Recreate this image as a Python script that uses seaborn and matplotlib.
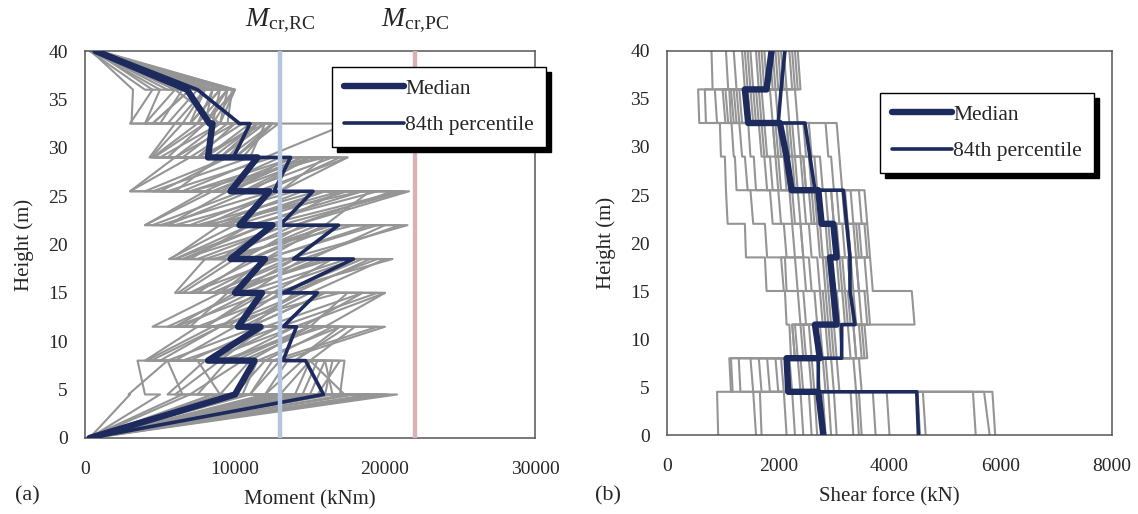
import numpy as np
import pandas as pd
import matplotlib
matplotlib.use("Agg")
import matplotlib.pyplot as plt
import seaborn as sns

# floor levels (m) - each story is drawn from floors[i] to floors[i+1]
floors = [0, 4.5, 8, 11.5, 15, 18.5, 22, 25.5, 29, 32.5, 36, 40]

# cracking moments (kNm)
mcr_rc = 13000
mcr_pc = 22000

# moment per story: (bottom, top) in kNm
moment_median = [(300, 10000), (10000, 11300), (8200, 11700), (10200, 11800), (10000, 12000),
                 (9700, 12500), (10300, 12300), (9700, 11500), (8200, 8500), (8300, 6800), (6800, 700)]
moment_p84 = [(300, 15900), (15900, 14700), (13200, 14100), (13200, 15500), (13200, 17900),
              (13900, 16900), (13000, 15200), (12600, 13700), (9900, 11000), (10300, 7500), (7500, 900)]
moment_records = [
    [(300, 3000), (2900, 5500), (4100, 8500), (4500, 9000), (6200, 9500), (5700, 9000), (4000, 8000), (3000, 7000), (4400, 6500), (3100, 3200), (3200, 400)],
    [(200, 6500), (5500, 8000), (6000, 10000), (6500, 11000), (7000, 11500), (6500, 12000), (5500, 11000), (5000, 9500), (5500, 8000), (4500, 7000), (6500, 700)],
    [(400, 8500), (7500, 9500), (7000, 12000), (8000, 11500), (8000, 12500), (7500, 13500), (7000, 13000), (6500, 12000), (6500, 9500), (6000, 8000), (7000, 800)],
    [(300, 10500), (9000, 11000), (8500, 13000), (9000, 12500), (8500, 13500), (9000, 14000), (8500, 14500), (8000, 13000), (7500, 10000), (7000, 9000), (8000, 900)],
    [(500, 12000), (11000, 12500), (9500, 14000), (10500, 15000), (9500, 16000), (10000, 15500), (9500, 16000), (9000, 14500), (8500, 11500), (8000, 9500), (8500, 1000)],
    [(200, 13500), (12000, 13500), (10500, 15500), (11000, 16000), (10500, 17500), (11000, 17000), (10000, 17500), (9500, 15500), (9000, 12000), (8500, 10000), (9500, 700)],
    [(300, 14500), (13000, 15000), (11500, 17000), (12000, 18500), (11500, 18000), (12000, 19000), (11000, 19500), (10500, 16500), (9500, 12500), (9000, 10000), (10000, 800)],
    [(400, 16000), (14500, 15500), (12500, 19500), (13000, 19500), (12500, 20500), (13500, 21500), (12000, 21000), (11500, 17500), (10000, 12900), (9500, 9800), (9800, 900)],
    [(300, 17500), (15500, 17000), (13000, 20000), (14000, 20000), (13500, 19500), (14500, 21000), (13000, 21300), (12000, 17000), (10500, 12500), (9000, 9500), (9500, 600)],
    [(200, 19500), (16000, 16500), (14000, 17500), (14500, 18500), (14000, 19000), (15000, 20000), (14000, 20500), (13000, 16000), (11000, 12000), (8500, 9000), (9000, 700)],
    [(500, 20800), (17000, 17300), (15000, 18000), (15000, 17500), (13000, 18500), (12000, 19500), (11000, 18500), (10500, 15000), (9500, 11500), (8000, 8500), (8500, 800)],
    [(300, 20200), (15000, 16000), (12000, 16500), (11000, 16000), (10000, 15500), (9500, 16500), (9000, 17000), (8500, 15000), (8000, 11000), (7500, 8500), (8000, 900)],
    [(200, 18000), (14000, 15000), (10000, 15000), (9000, 14500), (8500, 14000), (8000, 15000), (7500, 15500), (7000, 14000), (7000, 10500), (6500, 8000), (7500, 600)],
    [(400, 15000), (10000, 12000), (8000, 14000), (7500, 13500), (7000, 13000), (6500, 13500), (6000, 14000), (5500, 12500), (6000, 10000), (5500, 7500), (6500, 700)],
    [(300, 11000), (7000, 10500), (6500, 13000), (6000, 12000), (7500, 11000), (6000, 12000), (5000, 12500), (4500, 11000), (5000, 9000), (4500, 7000), (5500, 500)],
    [(200, 9000), (6000, 9000), (5500, 11500), (5500, 10500), (6500, 10000), (6000, 11000), (4500, 10500), (4000, 9500), (4600, 8000), (4000, 6000), (4500, 600)],
    [(300, 16500), (12000, 14500), (9000, 16000), (8500, 17000), (9000, 16500), (8500, 18000), (8000, 18500), (7000, 16000), (7500, 12000), (7000, 9000), (7500, 800)],
    [(500, 14000), (11000, 13000), (9500, 15000), (10000, 14500), (9000, 15000), (9500, 16500), (9000, 16000), (8500, 14000), (8000, 11500), (7500, 9500), (8200, 700)],
    [(300, 7000), (6500, 5500), (5000, 9000), (11000, 14000), (6000, 8000), (12000, 16000), (5500, 9500), (13000, 17500), (4500, 7500), (9000, 6000), (6000, 500)],
    [(200, 13000), (9000, 7500), (14000, 17000), (6000, 10000), (15000, 20000), (7000, 11000), (16000, 19000), (6000, 9000), (10000, 12500), (4000, 5000), (5000, 400)],
    [(400, 19000), (17300, 15000), (4400, 9000), (16000, 20000), (9000, 12000), (5600, 10000), (14000, 21600), (3000, 6000), (12000, 17500), (7000, 8000), (8000, 800)],
    [(300, 5000), (4000, 3500), (9000, 12000), (7000, 9500), (11000, 14500), (9000, 12500), (4000, 8500), (11000, 15000), (4300, 6000), (3000, 4500), (4000, 300)],
    [(500, 20000), (16500, 16000), (11000, 15000), (9500, 13000), (12500, 16500), (10500, 14500), (12500, 17000), (10000, 13500), (9000, 11500), (8000, 10000), (10000, 1000)],
    [(300, 12500), (10500, 11500), (4000, 7500), (8000, 12000), (10000, 14000), (11000, 16000), (8000, 13000), (9500, 14500), (6000, 9000), (5000, 6500), (6000, 600)],
]

# shear per story: (bottom, top) in kN
shear_median = [(2810, 2720), (2180, 2150), (2750, 2660), (3050, 2990), (2990, 2930), (3050, 2990),
                (2780, 2720), (2240, 2150), (2150, 2030), (1460, 1400), (1790, 1880)]
shear_p84 = [(4520, 4490), (2720, 2720), (3140, 3140), (3380, 3290), (3290, 3290), (3290, 3230),
             (3230, 3170), (2660, 2570), (2570, 2480), (2000, 2050), (2050, 2120)]
shear_records = [
    [(920, 900), (1180, 1150), (2230, 2200), (2150, 2120), (1790, 1760), (1420, 1400), (1090, 1060), (1060, 1040), (970, 950), (580, 560), (820, 800)],
    [(1700, 1670), (1320, 1290), (2450, 2400), (2400, 2350), (2150, 2120), (1800, 1760), (1550, 1500), (1250, 1220), (1200, 1160), (700, 680), (1100, 1060)],
    [(2300, 2250), (1700, 1650), (2350, 2300), (2700, 2650), (2500, 2450), (2300, 2250), (2050, 2000), (1600, 1560), (1500, 1460), (1050, 1000), (1400, 1350)],
    [(2450, 2400), (1850, 1800), (2600, 2550), (2900, 2850), (2750, 2700), (2600, 2550), (2400, 2350), (1900, 1850), (1750, 1700), (1150, 1120), (1550, 1500)],
    [(2600, 2550), (2000, 1950), (2700, 2650), (3100, 3050), (3000, 2950), (2900, 2850), (2600, 2550), (2050, 2000), (1950, 1900), (1300, 1250), (1700, 1650)],
    [(2700, 2650), (2100, 2050), (2500, 2450), (2850, 2800), (2850, 2800), (3050, 3000), (2800, 2750), (2300, 2250), (2100, 2050), (1450, 1400), (1800, 1750)],
    [(2850, 2800), (2200, 2150), (2750, 2700), (3050, 3000), (3100, 3050), (3200, 3150), (2900, 2850), (2350, 2300), (2200, 2150), (1550, 1500), (1900, 1850)],
    [(2950, 2900), (2250, 2200), (2900, 2850), (3200, 3150), (3300, 3250), (3300, 3250), (3000, 2950), (2450, 2400), (2250, 2200), (1600, 1550), (1950, 1900)],
    [(3050, 3000), (2400, 2350), (3050, 3000), (3350, 3300), (3450, 3400), (3450, 3400), (3200, 3150), (2600, 2550), (2400, 2350), (1750, 1700), (2050, 2000)],
    [(3500, 3450), (2600, 2550), (3300, 3250), (3500, 3450), (3600, 3550), (3650, 3600), (3350, 3300), (2800, 2750), (2600, 2550), (1900, 1850), (2150, 2100)],
    [(3750, 3700), (2750, 2700), (3550, 3500), (4450, 4400), (3700, 3650), (3400, 3350), (3600, 3550), (3150, 3100), (3100, 3050), (2350, 2300), (2400, 2350)],
    [(4650, 4600), (3000, 2950), (3400, 3350), (3250, 3200), (3200, 3150), (3100, 3050), (3000, 2950), (2500, 2450), (2300, 2250), (1650, 1600), (2250, 2200)],
    [(5550, 5500), (3400, 3350), (3600, 3550), (3400, 3350), (3350, 3300), (3500, 3450), (3250, 3200), (2700, 2650), (2500, 2450), (2000, 1950), (2300, 2250)],
    [(5800, 5700), (3500, 3450), (3150, 3100), (3100, 3050), (2900, 2850), (2750, 2700), (2650, 2600), (2150, 2100), (2000, 1950), (1350, 1300), (1750, 1700)],
    [(5900, 5850), (2850, 2800), (2950, 2900), (2950, 2900), (2600, 2550), (2450, 2400), (2300, 2250), (1800, 1750), (1700, 1650), (1200, 1150), (1500, 1450)],
    [(2150, 2100), (1550, 1500), (2300, 2250), (2500, 2450), (2350, 2300), (2150, 2100), (1900, 1850), (1450, 1400), (1350, 1300), (900, 860), (1250, 1200)],
    [(3350, 3300), (2450, 2400), (2800, 2750), (3000, 2950), (3150, 3100), (2950, 2900), (2700, 2650), (2200, 2150), (2050, 2000), (1500, 1450), (2000, 1950)],
    [(4550, 4500), (2650, 2600), (3000, 2950), (3300, 3250), (2950, 2900), (3300, 3250), (3100, 3050), (2500, 2450), (2200, 2150), (1700, 1650), (2100, 2050)],
    [(3450, 3400), (2900, 2850), (2300, 2250), (2800, 2750), (2100, 2050), (2450, 2400), (2250, 2200), (2000, 1950), (1800, 1750), (1100, 1050), (1450, 1400)],
    [(1600, 1550), (1150, 1120), (3400, 3350), (3600, 3550), (3450, 3400), (3600, 3550), (3500, 3450), (3000, 2950), (2900, 2850), (2200, 2150), (2350, 2300)],
    [(4000, 3950), (3100, 3050), (3500, 3450), (3650, 3600), (3300, 3250), (2800, 2750), (2500, 2450), (2200, 2150), (1950, 1900), (1250, 1200), (1650, 1600)],
]

navy = '#1c2a5e'
gray = '#959595'


def profile(pairs, rec=0):
    rows = []
    for i, (b, t) in enumerate(pairs):
        rows.append((rec, b, floors[i]))
        rows.append((rec, t, floors[i + 1]))
    return pd.DataFrame(rows, columns=['record', 'value', 'height'])


sns.set_style('white')
plt.rcParams['font.family'] = ['Liberation Serif', 'DejaVu Serif']
plt.rcParams['mathtext.fontset'] = 'custom'
plt.rcParams['mathtext.rm'] = 'Liberation Serif'
plt.rcParams['mathtext.it'] = 'Liberation Serif:italic'

fig = plt.figure(figsize=(11.38, 5.14), dpi=100)
ax1 = fig.add_axes([85 / 1138, 76 / 514, 450 / 1138, 387 / 514])
ax2 = fig.add_axes([667 / 1138, 79 / 514, 445 / 1138, 384 / 514])

panels = [
    (ax1, moment_records, moment_median, moment_p84, 'Moment (kNm)', (0, 30000), 10000, (332, 67)),
    (ax2, shear_records, shear_median, shear_p84, 'Shear force (kN)', (0, 8000), 2000, (880, 93)),
]

for ax, records, med, p84, xlab, xlim, xstep, leg_pos in panels:
    recs = pd.concat([profile(r, k) for k, r in enumerate(records)], ignore_index=True)
    sns.lineplot(data=recs, x='value', y='height', units='record', estimator=None, sort=False,
                 color=gray, lw=1.5, ax=ax, legend=False, zorder=2)
    d = profile(med)
    sns.lineplot(data=d, x='value', y='height', estimator=None, sort=False, color=navy, lw=4.6,
                 solid_capstyle='round', solid_joinstyle='round', ax=ax, zorder=4, label='Median')
    d = profile(p84)
    sns.lineplot(data=d, x='value', y='height', estimator=None, sort=False, color=navy, lw=2.6,
                 solid_capstyle='round', solid_joinstyle='round', ax=ax, zorder=4, label='84th percentile')

    ax.set_xlim(*xlim)
    ax.set_ylim(0, 40)
    ax.set_xticks(np.arange(xlim[0], xlim[1] + 1, xstep))
    ax.set_yticks(np.arange(0, 41, 5))
    ax.set_xlabel(xlab, fontsize=15, labelpad=9)
    ax.set_ylabel('Height (m)', fontsize=15, labelpad=10)
    ax.tick_params(axis='both', direction='inout', length=9, width=1.1, color='#4a4a4a', labelsize=14)
    ax.tick_params(axis='x', pad=12)
    ax.tick_params(axis='y', pad=8)
    for s in ax.spines.values():
        s.set_color('#555555')
        s.set_linewidth(1.1)

    handles, labels = ax.get_legend_handles_labels()
    leg = ax.legend(handles, labels, loc='upper left',
                    bbox_to_anchor=(leg_pos[0] / 1138, 1 - leg_pos[1] / 514),
                    bbox_transform=fig.transFigure, borderaxespad=0, fontsize=15.5,
                    handlelength=2.8, handletextpad=0.05, labelspacing=0.75, borderpad=0.55,
                    fancybox=False, framealpha=1, edgecolor='black',
                    shadow={'ox': 3.5, 'oy': -3.5, 'color': 'black', 'alpha': 1})
    leg.get_frame().set_linewidth(1.0)
    leg.set_zorder(10)

# cracking moment lines
ax1.axvline(mcr_rc, color='#b3c5df', lw=3.2, zorder=5)
ax1.axvline(mcr_pc, color='#d9b2b3', lw=3.2, zorder=5)
ax1.text(mcr_rc, 1.065, r'$M_{\rm cr{,}RC}$', transform=ax1.get_xaxis_transform(),
         ha='center', va='baseline', fontsize=20)
ax1.text(mcr_pc, 1.065, r'$M_{\rm cr{,}PC}$', transform=ax1.get_xaxis_transform(),
         ha='center', va='baseline', fontsize=20)

fig.text(15 / 1138, 1 - 496 / 514, '(a)', fontsize=16, va='center', ha='left')
fig.text(595 / 1138, 1 - 496 / 514, '(b)', fontsize=16, va='center', ha='left')

fig.savefig('out.png', dpi=100)
